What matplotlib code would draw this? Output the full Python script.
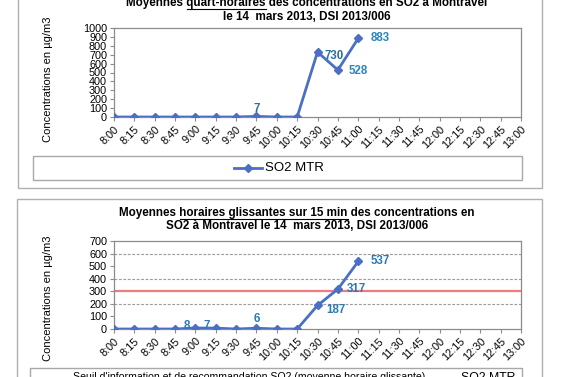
import numpy as np
import matplotlib.pyplot as plt
from matplotlib.transforms import IdentityTransform
from matplotlib.patches import Rectangle
from matplotlib.lines import Line2D

plt.rcParams['font.family'] = ['Liberation Sans', 'DejaVu Sans']

# x axis: quarter hours 8:00 -> 13:00
times = ['8:00', '8:15', '8:30', '8:45', '9:00', '9:15', '9:30', '9:45', '10:00', '10:15',
         '10:30', '10:45', '11:00', '11:15', '11:30', '11:45', '12:00', '12:15', '12:30',
         '12:45', '13:00']

# quart-horaires SO2 MTR (8:00 -> 11:00)
so2_qh = [0, 0, 0, 0, 0, 0, 0, 7, 0, 0, 730, 528, 883]
# moyennes horaires glissantes
so2_glis = [0, 0, 0, 0, 8, 7, 0, 6, 0, 0, 187, 317, 537]
seuil = 300

W, H = 565, 377
LINE_C = '#4a6fc4'
LAB_C = '#2b86c0'
GRAY = '#8c8c8c'

fig = plt.figure(figsize=(W / 100, H / 100), dpi=100)
r = fig.canvas.get_renderer()
px = IdentityTransform()


def ax_at(l, t, rgt, b):
    return fig.add_axes([l / W, (H - b) / H, (rgt - l) / W, (b - t) / H])


def title_line(cx, ytop, pre, und, post, size=8.4):
    # one line of bold title, with the middle part underlined
    y = H - ytop
    full = fig.text(cx, y, pre + und + post, transform=px, ha='center', va='center',
                    fontsize=size, fontweight='bold')
    bb = full.get_window_extent(r)
    def wid(s):
        t = fig.text(0, 0, s, transform=px, fontsize=size, fontweight='bold')
        w = t.get_window_extent(r).width
        t.remove()
        return w
    if und:
        sp = wid('a a') - wid('aa')
        x0 = bb.x0 + (wid(pre.strip()) + sp if pre.strip() else 0)
        x1 = x0 + wid(und.strip())
        fig.add_artist(Line2D([x0, x1], [bb.y0 + 0.5, bb.y0 + 0.5], transform=px,
                              color='black', lw=0.8))


def style_axis(ax, ymax, step):
    ax.set_xlim(0, 20)
    ax.set_ylim(0, ymax)
    ax.set_xticks(range(len(times)))
    ax.set_xticklabels(times, rotation=45, ha='right', rotation_mode='anchor', fontsize=7.8)
    ax.set_yticks(np.arange(0, ymax + 1, step))
    ax.tick_params(axis='y', labelsize=7.8, length=3, color=GRAY, pad=2)
    ax.tick_params(axis='x', length=3, color=GRAY, pad=2)
    for s in ax.spines.values():
        s.set_color(GRAY)
        s.set_linewidth(0.9)
    ax.set_ylabel('Concentrations en µg/m3', fontsize=8)


# frames
fig.add_artist(Rectangle((18, H - 188), 524, 200, transform=px, fill=False,
                         edgecolor='#b0b0b0', lw=1))
fig.add_artist(Rectangle((17, -10), 525, H - 199 + 10, transform=px, fill=False,
                         edgecolor='#b0b0b0', lw=1))

# ---- top chart
ax1 = ax_at(114, 28, 521, 117)
x1 = np.arange(len(so2_qh))
ax1.plot(x1, so2_qh, color=LINE_C, lw=2, marker='D', ms=4, zorder=3, label='SO2 MTR')
style_axis(ax1, 1000, 100)
ax1.yaxis.set_label_coords(-0.15, 0.42)
for i, dx, dy, c in [(7, 0, 7, '#2a6f97'), (10, 17, -4, '#2a6f97'), (11, 20, -1, LAB_C), (12, 22, 0, LAB_C)]:
    ax1.annotate(str(so2_qh[i]), (i, so2_qh[i]), xytext=(dx, dy), textcoords='offset pixels',
                 ha='center', va='center', fontsize=8.3, fontweight='bold', color=c)

title_line(307, 3, 'Moyennes ', 'quart-horaires', ' des concentrations en SO2 à Montravel')
title_line(307, 17, '', '', 'le 14  mars 2013, DSI 2013/006')

fig.add_artist(Rectangle((33, H - 180), 489, 24, transform=px, fill=False,
                         edgecolor='#a8a8a8', lw=1))
fig.add_artist(Line2D([234, 262], [H - 168, H - 168], transform=px, color=LINE_C, lw=2))
fig.add_artist(Line2D([248], [H - 168], transform=px, color=LINE_C, marker='D', ms=4))
fig.text(265, H - 168, 'SO2 MTR', transform=px, va='center', fontsize=9.5)

# ---- bottom chart
ax2 = ax_at(114, 241, 521, 329)
x2 = np.arange(len(so2_glis))
for g in (200, 400, 600):
    ax2.axhline(g, color='#9a9a9a', lw=0.8, ls=(0, (2.5, 1.5)), zorder=1)
ax2.axhline(seuil, color='#f07a80', lw=1.6, zorder=2)
ax2.plot(x2, so2_glis, color=LINE_C, lw=2, marker='D', ms=4, zorder=3)
style_axis(ax2, 700, 100)
ax2.yaxis.set_label_coords(-0.15, 0.35)
for i, dx, dy in [(4, -9, 2), (5, -9, 2), (7, 0, 9), (10, 18, -5), (11, 19, 0), (12, 22, 0)]:
    ax2.annotate(str(so2_glis[i]), (i, so2_glis[i]), xytext=(dx, dy), textcoords='offset pixels',
                 ha='center', va='center', fontsize=8.3, fontweight='bold', color='#2a7ab5')

title_line(297, 213, 'Moyennes ', 'horaires glissantes sur 15 min', ' des concentrations en')
title_line(297, 226, '', '', 'SO2 à Montravel le 14  mars 2013, DSI 2013/006')

fig.add_artist(Rectangle((30, H - 390), 492, 22, transform=px, fill=False,
                         edgecolor='#a8a8a8', lw=1))
fig.text(73, H - 372, "Seuil d'information et de recommandation SO2 (moyenne horaire glissante)",
         transform=px, va='top', fontsize=7.6)
fig.text(515, H - 372, 'SO2 MTR', transform=px, va='top', ha='right', fontsize=8.8)

fig.savefig('out.png', dpi=100)
